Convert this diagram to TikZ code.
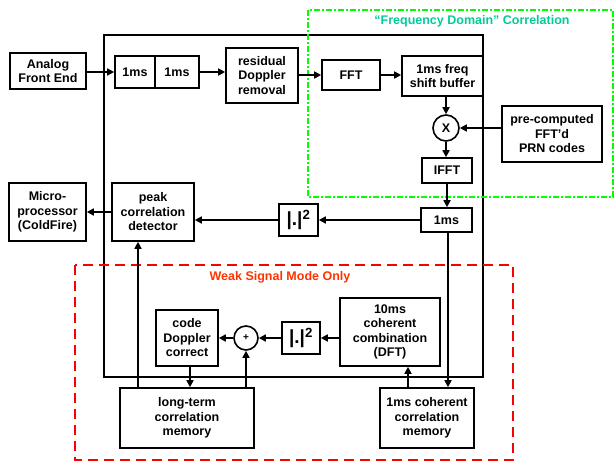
\documentclass[tikz,border=0pt]{standalone}
\usepackage{fontspec}
\setmainfont{Liberation Sans}
\usetikzlibrary{arrows.meta}
\definecolor{verde}{HTML}{00FF00}
\definecolor{turchese}{HTML}{00CC99}
\definecolor{rosso}{HTML}{FF0000}
\definecolor{arancio}{HTML}{FF3300}

\begin{document}
\begin{tikzpicture}[x=1pt, y=-1pt,
    font=\bfseries\fontsize{12.5}{14.5}\selectfont,
    blk/.style={draw, line width=1.6pt, align=center, inner sep=1pt},
    giro/.style={draw, circle, line width=1.6pt, inner sep=0pt},
    arr/.style={-{Triangle[length=7pt,width=7pt]}, line width=1.6pt}]
        \useasboundingbox (0,0) rectangle (615,464);
        % Cornici
        \draw[line width=1.6pt] (104,35) rectangle (483,377);
        \draw[verde, line width=2.5pt, dash pattern=on 6pt off 2pt on 2pt off 2pt] (308,10) rectangle (613,197);
        \draw[rosso, line width=2.5pt, dash pattern=on 10pt off 6pt] (75,265) rectangle (513,460);
        \node[turchese] (titverde) at (472,21) {“Frequency Domain” Correlation};
        \node[arancio] (titrosso) at (280,277) {Weak Signal Mode Only};
        % Blocchi
        \foreach \nome/\x/\y/\w/\h/\testo in {
                afe/48/71/76/36/{Analog\\Front End},
                ms1/135/72/40/32/{1ms},
                ms2/177/72/44/32/{1ms},
                rdr/262/75.5/72/55/{residual\\Doppler\\removal},
                fft/351/75/58/30/{FFT},
                fsb/442.5/76/81/40/{1ms freq\\shift buffer},
                prn/552/134/100/56/{pre-computed\\FFT’d\\PRN codes},
                ifft/447/170.5/50/25/{IFFT},
                ms3/446.5/220/51/24/{1ms},
                peak/153/212/82/58/{peak\\correlation\\detector},
                micro/47.5/212/77/58/{Micro-\\processor\\(ColdFire)},
                cdc/187/338/62/56/{code\\Doppler\\correct},
                comb/390/332/100/68/{10ms\\coherent\\combination\\(DFT)},
                ltm/187/418/134/60/{long-term\\correlation\\memory},
                ccm/427/418/94/60/{1ms coherent\\correlation\\memory}}
            {
                \node[blk, minimum width=\w pt, minimum height=\h pt] (\nome) at (\x,\y) {\testo};
            }
        \node[blk, minimum width=39pt, minimum height=32pt, inner sep=0pt,
            font=\bfseries\fontsize{19}{20}\selectfont] (sq1) at (298.5,220) {|.|\textsuperscript{2}};
        \node[blk, minimum width=38pt, minimum height=32pt, inner sep=0pt,
            font=\bfseries\fontsize{19}{20}\selectfont] (sq2) at (301,338) {|.|\textsuperscript{2}};
        \node[giro, minimum size=26pt] (mult) at (446,128) {X};
        \node[giro, minimum size=24pt, font=\bfseries\fontsize{10}{12}\selectfont] (plus) at (246,338) {+};
        % Frecce
        \draw[arr] (afe.east |- ms1) -- (ms1.west);
        \draw[arr] (ms2.east) -- (ms2.east -| rdr.west);
        \draw[arr] (rdr.east |- fft) -- (fft.west);
        \draw[arr] (fft.east) -- (fft.east -| fsb.west);
        \draw[arr] (fsb.south -| mult) -- (mult.north);
        \draw[arr] (prn.west |- mult) -- (mult.east);
        \draw[arr] (mult.south) -- (mult.south |- ifft.north);
        \draw[arr] (ifft.south) -- (ifft.south |- ms3.north);
        \draw[arr] (ms3.west) -- (ms3.west -| sq1.east);
        \draw[arr] (sq1.west) -- (sq1.west -| peak.east);
        \draw[arr] (peak.west) -- (peak.west -| micro.east);
        \draw[arr] ([xshift=1.5pt]ms3.south) -- ([xshift=1.5pt]ms3.south |- ccm.north);
        \draw[arr] ([xshift=-19pt]ccm.north) -- ([xshift=-19pt]ccm.north |- comb.south);
        \draw[arr] (comb.west |- sq2) -- (sq2.east);
        \draw[arr] (sq2.west) -- (plus.east);
        \draw[arr] (plus.west) -- (plus.west -| cdc.east);
        \draw[arr] ([xshift=3pt]cdc.south) -- ([xshift=3pt]cdc.south |- ltm.north);
        \draw[arr] (ltm.north -| plus) -- (plus.south);
        \draw[arr] ([xshift=-49pt]ltm.north) -- ([xshift=-49pt]ltm.north |- peak.south);
\end{tikzpicture}
\end{document}
